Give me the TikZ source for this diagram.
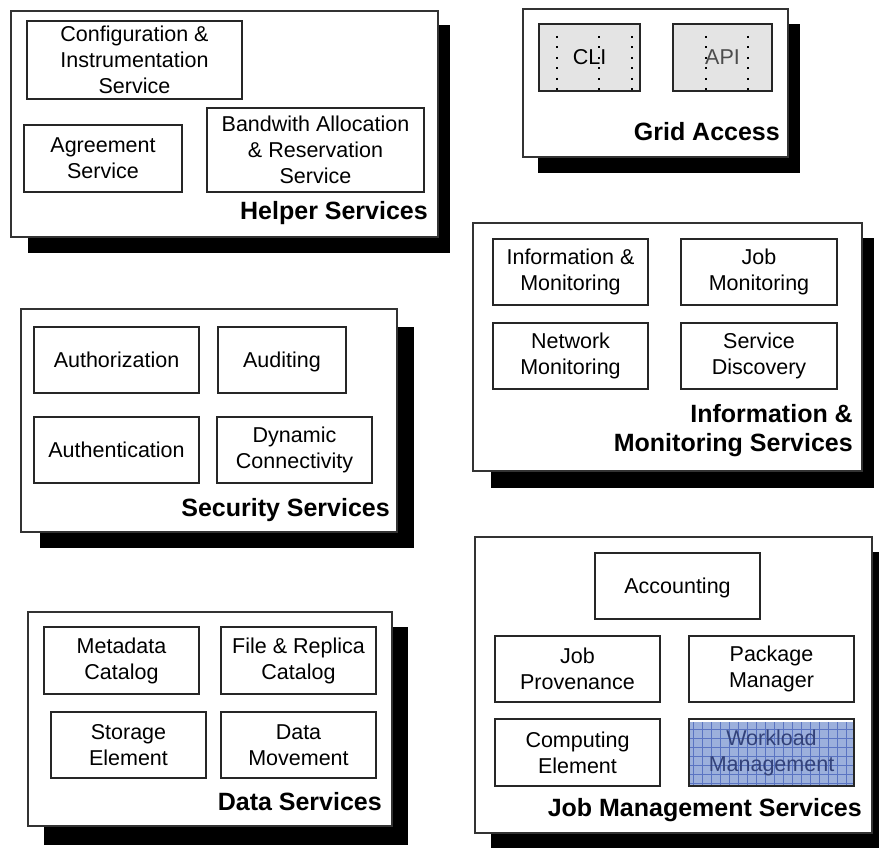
\documentclass[tikz,border=0pt]{standalone}
\usepackage{fontspec}
\setmainfont{Liberation Sans}
\definecolor{wlfill}{HTML}{9CB0DC}
\definecolor{wlgrid}{HTML}{5A74C2}
\definecolor{wltext}{HTML}{33427A}
\definecolor{cligray}{HTML}{E4E4E4}
\tikzset{
  panel/.style={draw=black!80, line width=1.3pt, fill=white, inner sep=0pt, outer sep=0pt},
  inbox/.style={draw=black!85, line width=1.3pt, inner sep=0pt, outer sep=0pt, align=center,
    font=\fontsize{21.5}{26}\selectfont},
  plabel/.style={anchor=east, align=right, inner sep=0pt, font=\bfseries\fontsize{25}{29}\selectfont},
  dotline/.style={line width=1.6pt, dash pattern=on 1.6pt off 8.9pt},
}
\newcommand\mypanel[9]{%
  \fill[black] (#6,#7) rectangle (#8,#9);
  \node[panel, minimum width={#4-#2}, minimum height={#5-#3}] (#1) at ({(#2+#4)/2},{(#3+#5)/2}) {};}
\newcommand\mybox[7][]{%
  \node[inbox, #1, minimum width={#5-#3}, minimum height={#6-#4}] (#2) at ({(#3+#5)/2},{(#4+#6)/2}) {#7};}
\begin{document}
\begin{tikzpicture}[x=1pt, y=-1pt]
\useasboundingbox (0,0) rectangle (879,848);

% Helper Services
\mypanel{helper}{11}{11}{438}{237}{28}{25}{450}{253}
\mybox{config}{27}{21}{242}{99}{Configuration \&\\Instrumentation\\Service}
\mybox{agree}{24}{125}{182}{192}{Agreement\\Service}
\mybox{band}{207}{108}{424}{192}{Bandwith Allocation\\\& Reservation\\Service}
\node[plabel] (helperlbl) at (428,213) {Helper Services};

% Grid Access
\mypanel{grid}{523}{9}{788}{157}{538}{24}{800}{173}
\mybox[fill=cligray]{cli}{539}{24}{640}{91}{CLI}
\mybox[fill=cligray, text=black!70]{api}{673}{24}{772}{91}{API}
\draw[dotline] (557,36) -- (557,92);
\draw[dotline] (599,36) -- (599,92);
\draw[dotline] (632,36) -- (632,92);
\draw[dotline] (706,36) -- (706,92);
\draw[dotline] (748,36) -- (748,92);
\node[plabel] (gridlbl) at (780,132) {Grid Access};

% Information & Monitoring Services
\mypanel{info}{473}{223}{862}{471}{491}{238}{874}{488}
\mybox{infomon}{493}{239}{648}{305}{Information \&\\Monitoring}
\mybox{jobmon}{681}{239}{837}{305}{Job\\Monitoring}
\mybox{netmon}{493}{323}{648}{389}{Network\\Monitoring}
\mybox{servdisc}{681}{323}{837}{389}{Service\\Discovery}
\node[plabel] (infolbl) at (853,430.5) {Information \&\\Monitoring Services};

% Security Services
\mypanel{sec}{21}{309}{397}{532}{40}{327}{414}{548}
\mybox{authz}{34}{327}{199}{393}{Authorization}
\mybox[text depth=0pt]{audit}{218}{327}{346}{393}{Auditing}
\mybox{authn}{34}{417}{199}{483}{Authentication}
\mybox{dyncon}{217}{417}{372}{483}{Dynamic\\Connectivity}
\node[plabel] (seclbl) at (390,510) {Security Services};

% Data Services
\mypanel{data}{28}{612}{392}{826}{44}{627}{408}{845}
\mybox{meta}{44}{627}{199}{694}{Metadata\\Catalog}
\mybox{filerep}{221}{627}{376}{694}{File \& Replica\\Catalog}
\mybox{storage}{51}{712}{206}{778}{Storage\\Element}
\mybox{datamov}{221}{712}{376}{778}{Data\\Movement}
\node[plabel] (datalbl) at (382,802) {Data Services};

% Job Management Services
\mypanel{job}{475}{537}{872}{833}{491}{552}{879}{848}
\mybox[text depth=0pt]{acct}{595}{553}{760}{619}{Accounting}
\mybox{jobprov}{495}{636}{660}{702}{Job\\Provenance}
\mybox{pkg}{689}{636}{854}{702}{Package\\Manager}
\mybox{comp}{495}{719}{660}{786}{Computing\\Element}
\fill[wlfill] (689,722) rectangle (854,786);
\begin{scope}
  \clip (689,722) rectangle (854,786);
  \draw[wlgrid, line width=0.6pt, step=9pt] (680,700) grid (860,790);
\end{scope}
\mybox[text=wltext]{wl}{689}{719}{854}{786}{Workload\\Management}
\node[plabel] (joblbl) at (862,810) {Job Management Services};
\end{tikzpicture}
\end{document}
